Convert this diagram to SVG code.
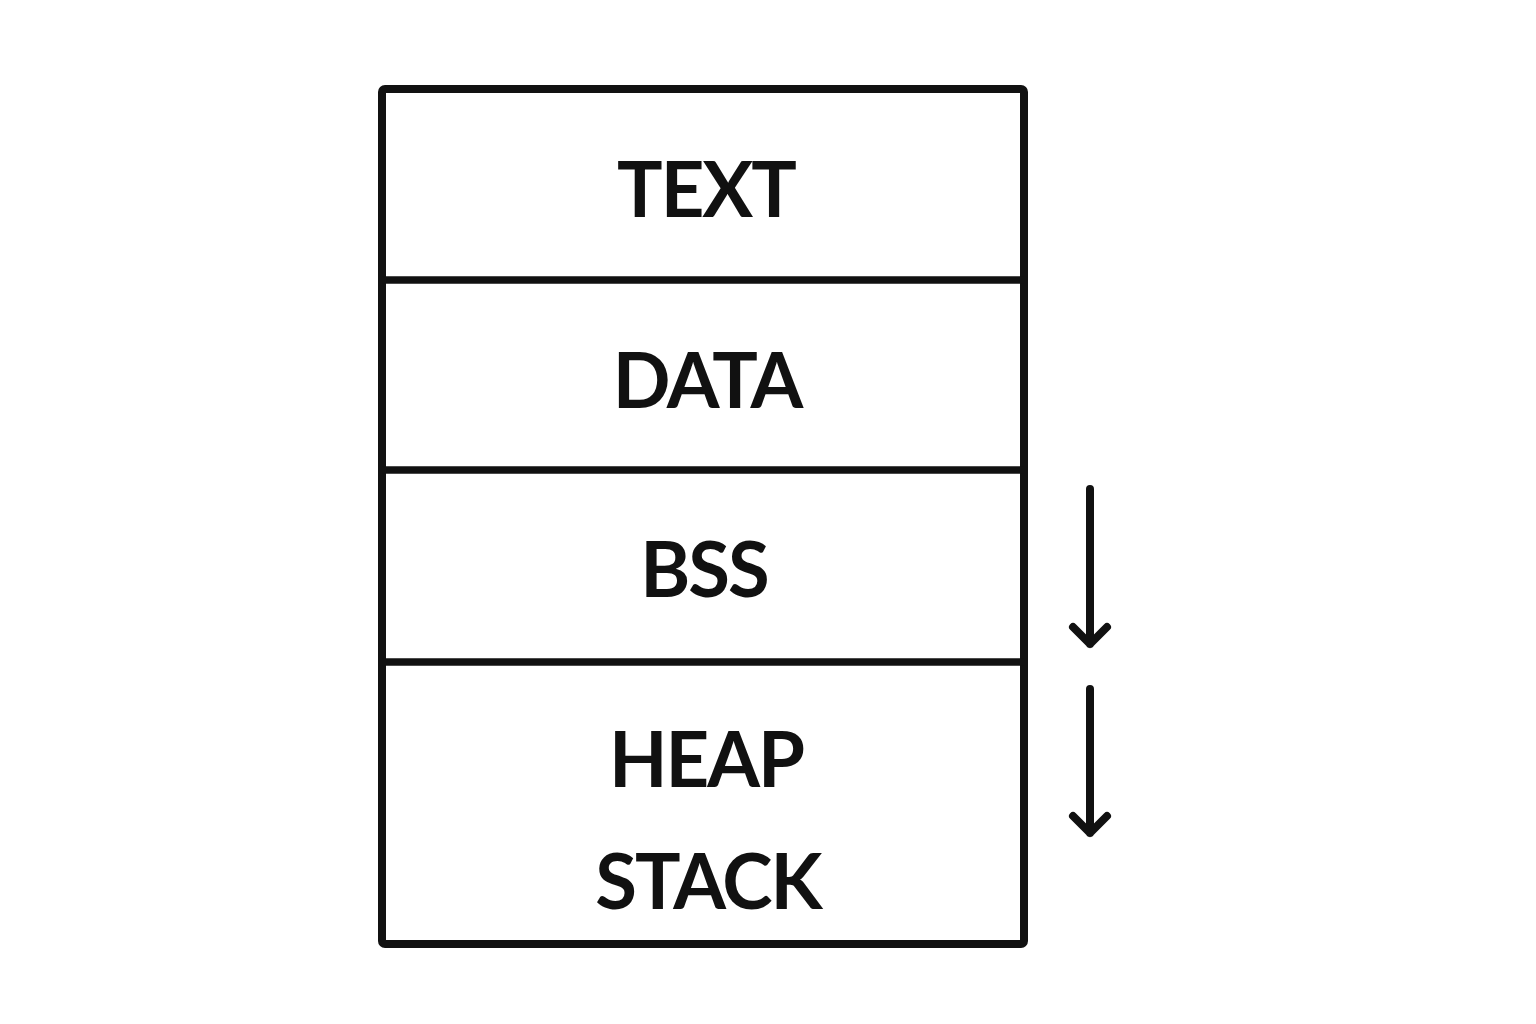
<svg xmlns="http://www.w3.org/2000/svg" width="1536" height="1024" viewBox="0 0 1536 1024">
<style>
.box{fill:none;stroke:#111;stroke-width:8;stroke-linejoin:round}
.div{stroke:#111;stroke-width:7.5}
.lbl{font-family:Lato,"Open Sans",sans-serif;font-weight:700;font-size:76px;letter-spacing:-2px;fill:#111;text-anchor:middle}
.arr{fill:none;stroke:#111;stroke-width:8;stroke-linecap:round;stroke-linejoin:round}
</style>
<rect width="1536" height="1024" fill="#fff"/>
<g id="memory">
<rect class="box" x="382" y="89" width="642" height="855" rx="3"/>
</g>
<g id="text"><text class="lbl" x="706" y="217">TEXT</text></g>
<g id="data"><text class="lbl" x="707" y="408">DATA</text></g>
<g id="bss"><text class="lbl" x="704" y="597">BSS</text></g>
<g id="heap-stack"><text class="lbl" x="706" y="787">HEAP</text><text class="lbl" x="708" y="909">STACK</text></g>
<g id="connectors">
<line class="div" x1="382" y1="280" x2="1024" y2="280"/>
<line class="div" x1="382" y1="470" x2="1024" y2="470"/>
<line class="div" x1="382" y1="662" x2="1024" y2="662"/>
<path class="arr" d="M1090 489V644M1073 627L1090 644L1107 627"/>
<path class="arr" d="M1090 689V833M1073 816L1090 833L1107 816"/>
</g>
</svg>
